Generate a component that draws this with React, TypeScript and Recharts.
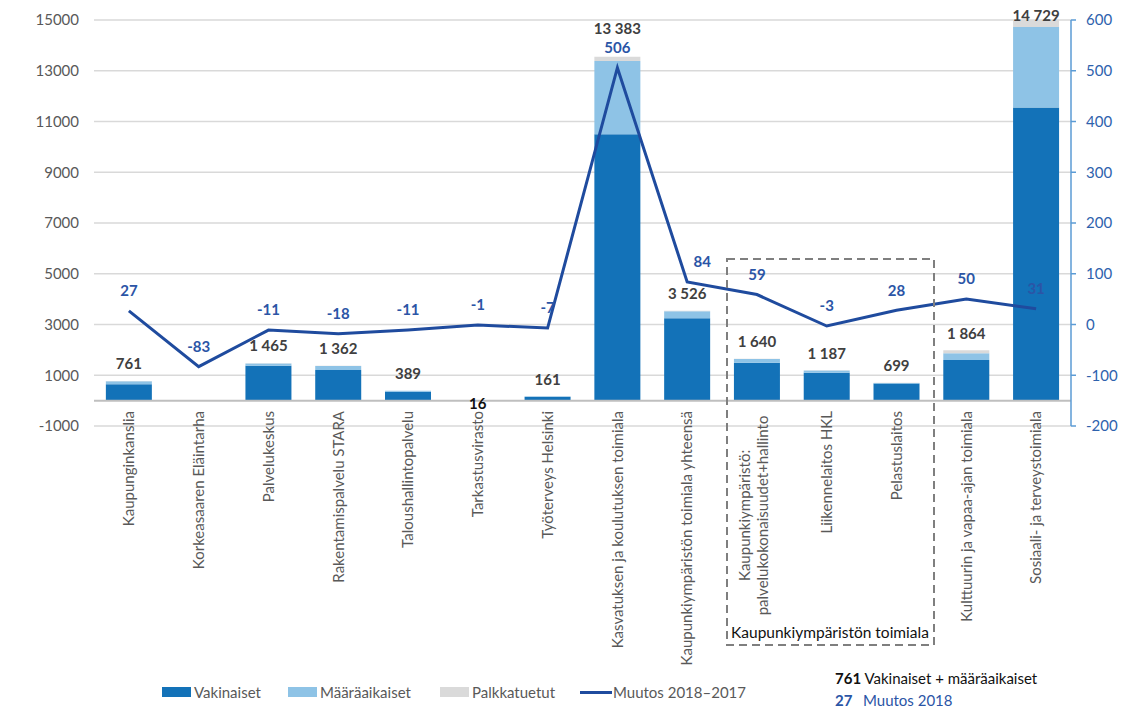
import {
  ComposedChart,
  Bar,
  Line,
  XAxis,
  YAxis,
  CartesianGrid,
  ReferenceLine,
  LabelList,
} from "recharts";

// Categories (x-axis), "\n" splits a label onto two lines
const categories = [
  "Kaupunginkanslia",
  "Korkeasaaren Eläintarha",
  "Palvelukeskus",
  "Rakentamispalvelu STARA",
  "Taloushallintopalvelu",
  "Tarkastusvirasto",
  "Työterveys Helsinki",
  "Kasvatuksen ja koulutuksen toimiala",
  "Kaupunkiympäristön toimiala yhteensä",
  "Kaupunkiympäristö:\npalvelukokonaisuudet+hallinto",
  "Liikennelaitos HKL",
  "Pelastuslaitos",
  "Kulttuurin ja vapaa-ajan toimiala",
  "Sosiaali- ja terveystoimiala",
];

// Staff counts (left axis)
const vakinaiset = [650, 0, 1373, 1203, 347, 15, 150, 10500, 3250, 1490, 1100, 670, 1600, 11550];
const maaraaikaiset = [111, 0, 92, 159, 42, 1, 11, 2883, 276, 150, 87, 29, 264, 3179];
const palkkatuetut = [8, 0, 10, 12, 5, 1, 4, 170, 12, 10, 8, 4, 120, 270];

// Change 2018-2017 (right axis)
const muutos = [27, -83, -11, -18, -11, -1, -7, 506, 84, 59, -3, 28, 50, 31];

const leftTicks = [-1000, 1000, 3000, 5000, 7000, 9000, 11000, 13000, 15000];
const rightTicks = [-200, -100, 0, 100, 200, 300, 400, 500, 600];

const data = categories.map((name, i) => {
  const total = vakinaiset[i] + maaraaikaiset[i];
  return {
    idx: i,
    name,
    vak: vakinaiset[i],
    maar: maaraaikaiset[i],
    palkka: palkkatuetut[i],
    total: total > 0 ? total : null,
    muutos: muutos[i],
  };
});

const FONT = "Lato, 'Open Sans', sans-serif";
const DARK = "#1372b8";
const LIGHT = "#8ec3e6";
const GREY = "#dadada";
const LINE = "#1f4b9e";
const LINE_LABEL = "#2b55a6";

const fmt = (n: number) => String(n).replace(/\B(?=(\d{3})+(?!\d))/g, " ");

const CategoryTick = (props: any) => {
  const { x, y, payload } = props;
  const lines = String(payload.value).split("\n");
  const top = y - 15;
  const style = { fontFamily: FONT, fontSize: 15, fill: "#595959" };
  if (lines.length === 1) {
    return (
      <text
        x={x}
        y={top}
        dy="0.35em"
        textAnchor="end"
        transform={`rotate(-90 ${x} ${top})`}
        style={style}
      >
        {lines[0]}
      </text>
    );
  }
  const longest = Math.max(...lines.map((l) => l.length));
  const mid = top + longest * 3.6;
  return (
    <g>
      {lines.map((l, i) => {
        const lx = x - 3 + (i - (lines.length - 1) / 2) * 18;
        return (
          <text
            key={i}
            x={lx}
            y={mid}
            dy="0.35em"
            textAnchor="middle"
            transform={`rotate(-90 ${lx} ${mid})`}
            style={style}
          >
            {l}
          </text>
        );
      })}
    </g>
  );
};

// total label above the stack; tiny values go under the baseline
const TotalLabel = (props: any) => {
  const { x, y, width, height, value } = props;
  const entry = value || {};
  const total = entry.total;
  if (total == null) return null;
  const cx = x + width / 2;
  if (total < 50) {
    return (
      <text x={cx} y={y + height + 4} dy="0.35em" textAnchor="middle"
        style={{ fontFamily: FONT, fontSize: 15, fontWeight: 700, fill: "#111" }}>
        {fmt(total)}
      </text>
    );
  }
  let cy = Math.max(y - 17, 16);
  if (entry.idx === 7) cy -= 11; // make room for the line label
  return (
    <text x={cx} y={cy} dy="0.35em" textAnchor="middle"
      style={{ fontFamily: FONT, fontSize: 15, fontWeight: 700, fill: "#404040" }}>
      {fmt(total)}
    </text>
  );
};

const ChangeLabel = (props: any) => {
  const { x, y, value, index } = props;
  const cx = index === 8 ? x + 15 : x;
  return (
    <text x={cx} y={y - 20} dy="0.35em" textAnchor="middle"
      style={{ fontFamily: FONT, fontSize: 15, fontWeight: 700, fill: LINE_LABEL }}>
      {value}
    </text>
  );
};

const legendItems = [
  { label: "Vakinaiset", color: DARK, type: "rect", left: 162 },
  { label: "Määräaikaiset", color: LIGHT, type: "rect", left: 288 },
  { label: "Palkkatuetut", color: GREY, type: "rect", left: 440 },
  { label: "Muutos 2018–2017", color: LINE, type: "line", left: 580 },
];

export default function App() {
  return (
    <div
      style={{
        position: "absolute",
        left: 0,
        top: 0,
        width: 1135,
        height: 707,
        background: "#fff",
        fontFamily: FONT,
      }}
    >
      <ComposedChart
        width={1135}
        height={707}
        data={data}
        margin={{ top: 20, right: 0, left: 0, bottom: 0 }}
        barCategoryGap="17%"
      >
        <CartesianGrid
          yAxisId="left"
          vertical={false}
          stroke="#d9d9d9"
          strokeWidth={1.3}
        />
        <XAxis
          dataKey="name"
          height={281}
          interval={0}
          axisLine={false}
          tickLine={false}
          tickSize={0}
          tickMargin={0}
          tick={<CategoryTick />}
        />
        <YAxis
          yAxisId="left"
          width={94}
          domain={[-1000, 15000]}
          ticks={leftTicks}
          axisLine={false}
          tickLine={false}
          tickSize={0}
          tickMargin={15}
          tick={{ fill: "#595959", fontSize: 15, fontFamily: FONT }}
        />
        <YAxis
          yAxisId="right"
          orientation="right"
          width={64}
          domain={[-200, 600]}
          ticks={rightTicks}
          axisLine={{ stroke: "#5b9bd5", strokeWidth: 1.5 }}
          tickLine={{ stroke: "#5b9bd5", strokeWidth: 1.5 }}
          tickSize={5}
          tickMargin={10}
          tick={{ fill: "#2e62ad", fontSize: 15, fontFamily: FONT }}
        />
        <ReferenceLine yAxisId="left" y={0} stroke="#bfbfbf" strokeWidth={2} />
        <Bar yAxisId="left" dataKey="vak" stackId="a" fill={DARK} isAnimationActive={false} />
        <Bar yAxisId="left" dataKey="maar" stackId="a" fill={LIGHT} isAnimationActive={false} />
        <Bar yAxisId="left" dataKey="palkka" stackId="a" fill={GREY} isAnimationActive={false}>
          <LabelList dataKey={(d: any) => d} content={<TotalLabel />} />
        </Bar>
        <Line
          yAxisId="right"
          dataKey="muutos"
          stroke={LINE}
          strokeWidth={3}
          dot={false}
          isAnimationActive={false}
        >
          <LabelList dataKey="muutos" content={<ChangeLabel />} />
        </Line>
      </ComposedChart>

      {/* dashed group box */}
      <svg
        width={1135}
        height={707}
        style={{ position: "absolute", left: 0, top: 0, pointerEvents: "none" }}
      >
        <rect
          x={727}
          y={259}
          width={207}
          height={386}
          fill="none"
          stroke="#7f7f7f"
          strokeWidth={2}
          strokeDasharray="8 5"
        />
        <text x={830} y={633} dy="0.35em" textAnchor="middle"
          style={{ fontFamily: FONT, fontSize: 15.5, fill: "#111" }}>
          Kaupunkiympäristön toimiala
        </text>
      </svg>

      {/* legend */}
      {legendItems.map((it) => (
        <div
          key={it.label}
          style={{
            position: "absolute",
            left: it.left,
            top: 683,
            display: "flex",
            alignItems: "center",
            fontSize: 15,
            color: "#595959",
            whiteSpace: "nowrap",
          }}
        >
          {it.type === "rect" ? (
            <div style={{ width: 29, height: 10, background: it.color, marginRight: 3 }} />
          ) : (
            <div style={{ width: 32, height: 3, background: it.color, marginRight: 1 }} />
          )}
          <span>{it.label}</span>
        </div>
      ))}

      {/* value key */}
      <div style={{ position: "absolute", left: 835, top: 667, fontSize: 15, lineHeight: "22px", whiteSpace: "nowrap" }}>
        <div style={{ color: "#111" }}>
          <b>761</b> Vakinaiset + määräaikaiset
        </div>
        <div style={{ color: "#2b55a6" }}>
          <b style={{ display: "inline-block", width: 28 }}>27</b>Muutos 2018
        </div>
      </div>
    </div>
  );
}
